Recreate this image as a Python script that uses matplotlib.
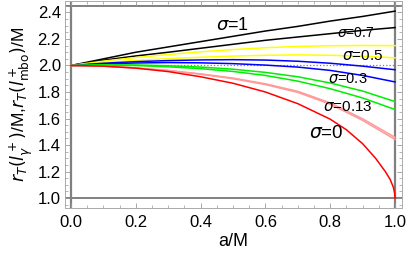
import numpy as np
import matplotlib.pyplot as plt
from matplotlib.ticker import MultipleLocator

plt.rcParams['font.family'] = ['Liberation Sans', 'DejaVu Sans']
plt.rcParams['mathtext.fontset'] = 'dejavusans'

# spin values a/M
a = [0.0, 0.1, 0.2, 0.3, 0.4, 0.5, 0.6, 0.7, 0.8, 0.9, 1.0]

# sigma = 1 (black)
black_hi = [2.0, 2.05, 2.10, 2.14, 2.18, 2.22, 2.26, 2.295, 2.335, 2.37, 2.41]
black_lo = [2.0, 2.04, 2.072, 2.10, 2.13, 2.16, 2.19, 2.215, 2.24, 2.265, 2.286]
# yellow
yellow_hi = [2.0, 2.033, 2.06, 2.083, 2.103, 2.12, 2.134, 2.144, 2.149, 2.151, 2.15]
yellow_lo = [2.0, 2.022, 2.038, 2.052, 2.062, 2.071, 2.077, 2.08, 2.077, 2.07, 2.058]
# blue
blue_hi = [2.0, 2.017, 2.029, 2.037, 2.042, 2.044, 2.041, 2.032, 2.017, 1.995, 1.968]
blue_lo = [2.0, 2.012, 2.019, 2.022, 2.02, 2.014, 2.003, 1.988, 1.963, 1.925, 1.876]
# green
green_hi = [2.0, 2.005, 2.004, 1.998, 1.988, 1.972, 1.948, 1.915, 1.868, 1.807, 1.728]
green_lo = [2.0, 2.003, 2.0, 1.99, 1.976, 1.955, 1.925, 1.882, 1.825, 1.755, 1.668]
# pink
pink_hi = [2.0, 1.995, 1.982, 1.963, 1.937, 1.905, 1.862, 1.805, 1.718, 1.598, 1.458]
pink_lo = [2.0, 1.995, 1.981, 1.961, 1.934, 1.900, 1.856, 1.797, 1.708, 1.586, 1.442]
# sigma = 0 (red), denser near a = 1
a_red = [0.0, 0.1, 0.2, 0.3, 0.4, 0.5, 0.6, 0.7, 0.8, 0.85, 0.9, 0.94, 0.97, 0.985, 0.995, 0.999, 1.0]
red = [2.0, 1.995, 1.98, 1.954, 1.915, 1.866, 1.80, 1.712, 1.595, 1.515, 1.41, 1.30, 1.20, 1.14, 1.08, 1.035, 1.0]

labels = [r'$\sigma$=1', r'$\sigma$=0.7', r'$\sigma$=0.5', r'$\sigma$=0.3', r'$\sigma$=0.13', r'$\sigma$=0']
label_x = [0.497, 0.88, 0.90, 0.853, 0.853, 0.787]
label_y = [2.30, 2.248, 2.068, 1.90, 1.69, 1.49]
label_size = [13, 10, 11, 10.5, 11, 13.5]

xticks = [0.0, 0.2, 0.4, 0.6, 0.8, 1.0]
yticks = [1.0, 1.2, 1.4, 1.6, 1.8, 2.0, 2.2, 2.4]

fig = plt.figure(figsize=(4.09, 2.62), dpi=100)
ax = fig.add_axes([0.159, 0.206, 0.824, 0.792])

gray = '#808080'
ax.axhline(1.0, color=gray, lw=1.4, zorder=1)
ax.axhline(2.45, color=gray, lw=1.4, zorder=1)
ax.axvline(0.0, color=gray, lw=1.6, zorder=1)
ax.axvline(1.0, color=gray, lw=1.6, zorder=1)
ax.plot([0, 1], [2.0, 2.0], color=gray, ls=':', lw=0.9, zorder=1)

lw = 1.1
ax.plot(a, black_hi, color='black', lw=lw)
ax.plot(a, black_lo, color='black', lw=lw)
ax.plot(a, yellow_hi, color='#ffff00', lw=lw)
ax.plot(a, yellow_lo, color='#ffff00', lw=lw)
ax.plot(a, blue_hi, color='#0000ff', lw=lw)
ax.plot(a, blue_lo, color='#0000ff', lw=lw)
ax.plot(a, green_hi, color='#00ee00', lw=lw)
ax.plot(a, green_lo, color='#00ee00', lw=lw)
ax.plot(a, pink_hi, color='#ff9a9a', lw=lw)
ax.plot(a, pink_lo, color='#ff9a9a', lw=lw)
ax.plot(a_red, red, color='#ff0000', lw=lw)

for t, x, y, s in zip(labels, label_x, label_y, label_size):
    ax.text(x, y, t, fontsize=s, ha='center', va='center', zorder=5)

ax.set_xlim(-0.0185, 1.0216)
ax.set_ylim(0.925, 2.49)
ax.set_xticks(xticks)
ax.set_yticks(yticks)
ax.set_xticklabels(['%.1f' % v for v in xticks])
ax.set_yticklabels(['%.1f' % v for v in yticks])
ax.xaxis.set_minor_locator(MultipleLocator(0.05))
ax.yaxis.set_minor_locator(MultipleLocator(0.05))
ax.tick_params(which='both', direction='in', top=True, right=True, color='#999999', labelsize=12)
ax.tick_params(axis='x', pad=5)
ax.tick_params(axis='y', pad=3)
ax.tick_params(which='major', length=3.5, width=0.6)
ax.tick_params(which='minor', length=2, width=0.5)
for sp in ax.spines.values():
    sp.set_color('#aaaaaa')
    sp.set_linewidth(0.7)

ax.set_xlabel('a/M', fontsize=13, labelpad=2)
ax.set_ylabel(r'$r_T(l_\gamma^+)$/M,$r_T(l_{\rm mbo}^+)$/M', fontsize=12.5, labelpad=2)

fig.savefig('out.png', dpi=100)
